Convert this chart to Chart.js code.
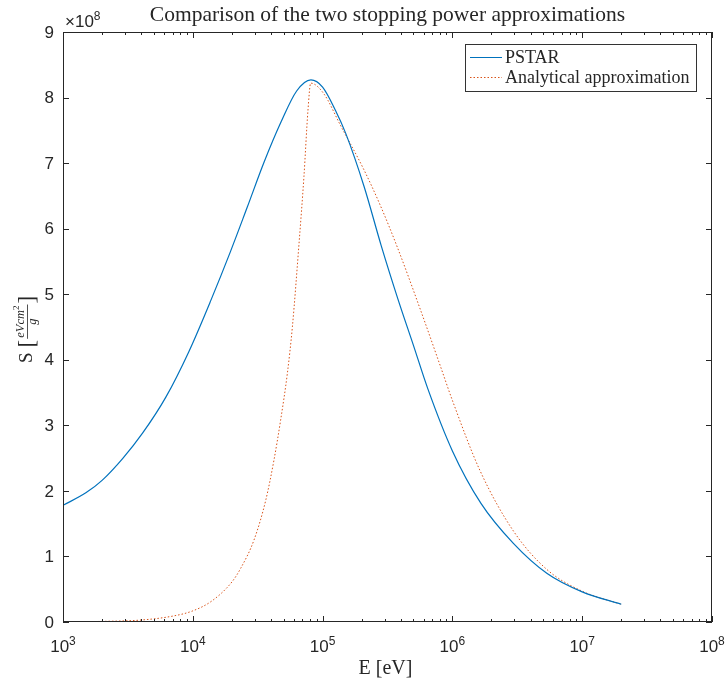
<!DOCTYPE html>
<html>
<head>
<meta charset="utf-8">
<title>Stopping power comparison</title>
<script src="https://cdn.jsdelivr.net/npm/chart.js@4.4.0/dist/chart.umd.min.js"></script>
<style>
  html, body { margin: 0; padding: 0; background: #fff; }
  canvas { display: block; }
</style>
</head>
<body>
<canvas id="chart" width="725" height="682"></canvas>
<script>
// energies in eV, stopping power in units of 1e8 eV cm^2/g
const energyPstar = [1000, 1500, 2000, 2900, 4100, 6200, 9300, 13800, 19500, 26300, 35500, 47900, 63100, 81300,
  100000, 126000, 151000, 209000, 282000, 380000, 501000, 646000, 1000000, 1660000, 2950000, 5370000, 10000000, 20000000];
const pstarS = [1.78, 1.97, 2.16, 2.50, 2.88, 3.43, 4.12, 4.91, 5.65, 6.33, 7.02, 7.63, 8.10, 8.27,
  8.16, 7.80, 7.45, 6.64, 5.75, 4.93, 4.22, 3.56, 2.61, 1.81, 1.20, 0.74, 0.46, 0.27];

const energyAnalytical = [1000, 2000, 4000, 7000, 10000, 14000, 20000, 23400, 29600, 36500, 42200, 47500, 53500, 58500,
  65800, 71800, 77100, 81000, 102000, 137000, 208000, 279000, 376000, 568000, 809000, 1000000, 1640000,
  2970000, 5350000, 10000000, 20000000];
const analyticalS = [0.003, 0.009, 0.03, 0.09, 0.17, 0.32, 0.61, 0.82, 1.25, 1.86, 2.47, 3.08, 3.79, 4.50,
  5.77, 6.79, 7.80, 8.22, 8.06, 7.58, 6.90, 6.35, 5.72, 4.76, 3.90, 3.38, 2.30,
  1.38, 0.80, 0.47, 0.27];

const xDecades = [3, 4, 5, 6, 7, 8];
const yTicks = [0, 1, 2, 3, 4, 5, 6, 7, 8, 9];
const seriesNames = ['PSTAR', 'Analytical approximation'];
const titleText = 'Comparison of the two stopping power approximations';

const blue = '#0072BD';
const orange = '#D95319';
const axisColor = '#262626';
const sans = '"Liberation Sans", Arial, sans-serif';
const serif = '"Liberation Serif", "Times New Roman", serif';

function toPoints(xs, ys) {
  return xs.map((x, i) => ({ x: x, y: ys[i] }));
}

// box, inward ticks, labels and legend in MATLAB style
const matlabAxes = {
  id: 'matlabAxes',
  afterDraw(chart) {
    const ctx = chart.ctx;
    const a = chart.chartArea;
    const xs = chart.scales.x, ys = chart.scales.y;
    ctx.save();
    ctx.strokeStyle = axisColor;
    ctx.fillStyle = axisColor;
    ctx.lineWidth = 1;

    ctx.strokeRect(Math.round(a.left) + 0.5, Math.round(a.top) + 0.5,
      Math.round(a.right - a.left) - 1, Math.round(a.bottom - a.top) - 1);

    ctx.beginPath();
    xDecades.forEach(d => {
      const px = Math.round(xs.getPixelForValue(Math.pow(10, d))) + 0.5;
      ctx.moveTo(px, a.bottom); ctx.lineTo(px, a.bottom - 6);
      ctx.moveTo(px, a.top); ctx.lineTo(px, a.top + 6);
      if (d < 8) {
        for (let k = 2; k <= 9; k++) {
          const mx = Math.round(xs.getPixelForValue(k * Math.pow(10, d))) + 0.5;
          ctx.moveTo(mx, a.bottom); ctx.lineTo(mx, a.bottom - 3);
          ctx.moveTo(mx, a.top); ctx.lineTo(mx, a.top + 3);
        }
      }
    });
    yTicks.forEach(t => {
      const py = Math.round(ys.getPixelForValue(t)) + 0.5;
      ctx.moveTo(a.left, py); ctx.lineTo(a.left + 6, py);
      ctx.moveTo(a.right, py); ctx.lineTo(a.right - 6, py);
    });
    ctx.stroke();

    // y tick labels
    ctx.font = '17px ' + sans;
    ctx.textAlign = 'right';
    ctx.textBaseline = 'middle';
    yTicks.forEach(t => {
      ctx.fillText(String(t), a.left - 9, ys.getPixelForValue(t) + 1);
    });

    // x tick labels 10^n
    ctx.textBaseline = 'alphabetic';
    ctx.textAlign = 'left';
    xDecades.forEach(d => {
      const px = xs.getPixelForValue(Math.pow(10, d));
      ctx.font = '17px ' + sans;
      const w1 = ctx.measureText('10').width;
      ctx.font = '12px ' + sans;
      const w2 = ctx.measureText(String(d)).width;
      const x0 = px - (w1 + w2) / 2;
      ctx.font = '17px ' + sans;
      ctx.fillText('10', x0, 652);
      ctx.font = '12px ' + sans;
      ctx.fillText(String(d), x0 + w1, 645);
    });

    // exponent label above y axis
    ctx.font = '17px ' + sans;
    ctx.fillText('\u00d710', a.left + 2, 27);
    const wE = ctx.measureText('\u00d710').width;
    ctx.font = '12px ' + sans;
    ctx.fillText('8', a.left + 2 + wE, 20);

    // title and x label
    ctx.textAlign = 'center';
    ctx.font = '21.5px ' + serif;
    ctx.fillText(titleText, (a.left + a.right) / 2, 21);
    ctx.font = '20px ' + serif;
    ctx.fillText('E [eV]', (a.left + a.right) / 2 - 2, 674);

    // y label: S [eV cm^2 / g], rotated
    ctx.save();
    ctx.translate(32, (a.top + a.bottom) / 2 - 2);
    ctx.rotate(-Math.PI / 2);
    ctx.textAlign = 'left';
    let lx = -38;
    ctx.font = '19px ' + serif;
    ctx.fillText('S', lx, 0);
    lx += ctx.measureText('S').width + 5;
    ctx.font = '23px ' + serif;
    ctx.fillText('[', lx, 2);
    lx += ctx.measureText('[').width + 1;
    ctx.font = 'italic 12.5px ' + serif;
    const num = 'eVcm';
    const wNum = ctx.measureText(num).width;
    ctx.font = '9px ' + serif;
    const wSup = ctx.measureText('2').width;
    const fracW = wNum + wSup + 2;
    ctx.font = 'italic 12.5px ' + serif;
    ctx.fillText(num, lx + 1, -8);
    ctx.font = '9px ' + serif;
    ctx.fillText('2', lx + 1 + wNum, -13);
    ctx.fillRect(lx, -5, fracW, 0.8);
    ctx.font = 'italic 12.5px ' + serif;
    ctx.textAlign = 'center';
    ctx.fillText('g', lx + fracW / 2, 4);
    ctx.textAlign = 'left';
    lx += fracW + 1;
    ctx.font = '23px ' + serif;
    ctx.fillText(']', lx, 2);
    ctx.restore();

    // legend
    const lg = { left: 465, top: 44, right: 696, bottom: 91 };
    ctx.fillStyle = '#ffffff';
    ctx.fillRect(lg.left, lg.top, lg.right - lg.left, lg.bottom - lg.top);
    ctx.strokeStyle = '#333333';
    ctx.lineWidth = 1;
    ctx.strokeRect(lg.left + 0.5, lg.top + 0.5, lg.right - lg.left, lg.bottom - lg.top);
    const rows = [57, 77];
    chart.data.datasets.forEach((ds, i) => {
      ctx.strokeStyle = ds.borderColor;
      ctx.lineWidth = 1;
      ctx.setLineDash(ds.borderDash || []);
      ctx.beginPath();
      ctx.moveTo(470, rows[i] + 0.5);
      ctx.lineTo(502, rows[i] + 0.5);
      ctx.stroke();
      ctx.setLineDash([]);
      ctx.fillStyle = axisColor;
      ctx.font = '18px ' + serif;
      ctx.textAlign = 'left';
      ctx.textBaseline = 'middle';
      ctx.fillText(ds.label, 505, rows[i] + 1);
    });
    ctx.restore();
  }
};

new Chart(document.getElementById('chart'), {
  type: 'line',
  data: {
    datasets: [
      {
        label: seriesNames[0],
        data: toPoints(energyPstar, pstarS),
        borderColor: blue,
        borderWidth: 1.2,
        pointRadius: 0,
        cubicInterpolationMode: 'monotone'
      },
      {
        label: seriesNames[1],
        data: toPoints(energyAnalytical, analyticalS),
        borderColor: orange,
        borderWidth: 1,
        borderDash: [1.5, 2],
        pointRadius: 0,
        cubicInterpolationMode: 'monotone'
      }
    ]
  },
  options: {
    responsive: false,
    animation: false,
    layout: { padding: { left: 63, right: 13, top: 32, bottom: 60 } },
    scales: {
      x: { type: 'logarithmic', min: 1e3, max: 1e8, display: false },
      y: { type: 'linear', min: 0, max: 9, display: false }
    },
    plugins: {
      legend: { display: false },
      title: { display: false },
      tooltip: { enabled: false }
    }
  },
  plugins: [matlabAxes]
});
</script>
</body>
</html>
